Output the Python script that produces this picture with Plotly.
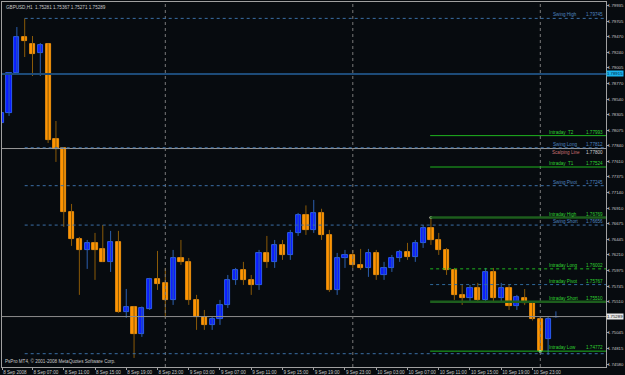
import plotly.graph_objects as go

# ---------------- data ----------------
bar_open = [1.78182, 1.78332, 1.78929, 1.79467, 1.79363, 1.79228, 1.79363, 1.77943, 1.77809, 1.76853,
            1.76449, 1.76285, 1.76390, 1.76300, 1.76110, 1.76404, 1.75359, 1.75433, 1.75030, 1.75403,
            1.75852, 1.75792, 1.75538, 1.76165, 1.76106, 1.75538, 1.75284, 1.75164, 1.75254, 1.75463,
            1.75837, 1.75986, 1.75837, 1.75762, 1.76240, 1.76106, 1.76360, 1.76210, 1.76539, 1.76808,
            1.76584, 1.76838, 1.76509, 1.75687, 1.76165, 1.76210, 1.76061, 1.76016, 1.76240, 1.75911,
            1.76016, 1.76165, 1.76255, 1.76180, 1.76390, 1.76614, 1.76434, 1.76285, 1.75986, 1.75613,
            1.75568, 1.75717, 1.75538, 1.75956, 1.75568, 1.75717, 1.75448, 1.75568, 1.75493, 1.75254,
            1.74955, 1.75281]
bar_high = [1.78511, 1.78944, 1.79616, 1.79745, 1.79482, 1.79377, 1.79370, 1.78212, 1.77815, 1.76972,
            1.76479, 1.76434, 1.76539, 1.76658, 1.76569, 1.76569, 1.75702, 1.75448, 1.75440, 1.75867,
            1.76270, 1.76016, 1.76285, 1.76434, 1.76165, 1.75613, 1.75388, 1.75284, 1.75538, 1.75911,
            1.76016, 1.76106, 1.75911, 1.76285, 1.76494, 1.76434, 1.76434, 1.76584, 1.76838, 1.76950,
            1.77032, 1.76900, 1.76584, 1.76240, 1.76285, 1.76285, 1.76300, 1.76300, 1.76285, 1.76106,
            1.76210, 1.76285, 1.76390, 1.76434, 1.76658, 1.76769, 1.76539, 1.76315, 1.76016, 1.75762,
            1.75762, 1.75792, 1.76016, 1.76016, 1.75792, 1.75762, 1.75613, 1.75700, 1.75510, 1.75284,
            1.75284, 1.75367]
bar_low = [1.77883, 1.78287, 1.78899, 1.79168, 1.78884, 1.78884, 1.77883, 1.77600, 1.76629, 1.76345,
           1.75613, 1.76001, 1.75837, 1.76106, 1.75956, 1.75344, 1.75269, 1.74671, 1.74985, 1.75388,
           1.75687, 1.75269, 1.75463, 1.76061, 1.75463, 1.75090, 1.75090, 1.75090, 1.75164, 1.75418,
           1.75762, 1.75762, 1.75613, 1.75687, 1.76016, 1.76016, 1.76136, 1.76136, 1.76494, 1.76509,
           1.76539, 1.76434, 1.75657, 1.75613, 1.76016, 1.76016, 1.75986, 1.75882, 1.75837, 1.75837,
           1.75956, 1.76106, 1.76136, 1.76106, 1.76315, 1.76360, 1.76210, 1.75911, 1.75538, 1.75463,
           1.75493, 1.75493, 1.75493, 1.75493, 1.75493, 1.75388, 1.75388, 1.75460, 1.75230, 1.74772,
           1.74716, 1.75271]
bar_close = [1.78332, 1.78929, 1.79467, 1.79407, 1.79213, 1.79348, 1.77928, 1.77794, 1.76853, 1.76449,
             1.76285, 1.76390, 1.76285, 1.76110, 1.76404, 1.75359, 1.75433, 1.75030, 1.75418, 1.75852,
             1.75777, 1.75538, 1.76165, 1.76106, 1.75538, 1.75284, 1.75164, 1.75254, 1.75463, 1.75837,
             1.75986, 1.75837, 1.75762, 1.76240, 1.76106, 1.76360, 1.76210, 1.76539, 1.76808, 1.76584,
             1.76838, 1.76509, 1.75687, 1.76165, 1.76210, 1.76061, 1.76016, 1.76240, 1.75911, 1.76016,
             1.76165, 1.76255, 1.76180, 1.76390, 1.76614, 1.76434, 1.76285, 1.75986, 1.75613, 1.75568,
             1.75717, 1.75538, 1.75956, 1.75568, 1.75717, 1.75448, 1.75583, 1.75493, 1.75254, 1.74776,
             1.75254, 1.75289]

x_tick_bars = [0, 4, 8, 12, 16, 20, 24, 28, 32, 36, 40, 44, 48, 52, 56, 60, 64, 68]
x_tick_labels = ["8 Sep 2008", "8 Sep 07:00", "8 Sep 11:00", "8 Sep 15:00", "8 Sep 19:00",
                 "8 Sep 23:00", "9 Sep 03:00", "9 Sep 07:00", "9 Sep 11:00", "9 Sep 15:00",
                 "9 Sep 19:00", "9 Sep 23:00", "10 Sep 03:00", "10 Sep 07:00", "10 Sep 11:00",
                 "10 Sep 15:00", "10 Sep 19:00", "10 Sep 23:00"]
separator_bars = [21, 45, 69]

y_tick_labels = ["1.79935", "1.79705", "1.79470", "1.79240", "1.79005", "1.78770", "1.78540",
                 "1.78305", "1.78075", "1.77840", "1.77610", "1.77375", "1.77140", "1.76910",
                 "1.76675", "1.76445", "1.76210", "1.75975", "1.75745", "1.75510",
                 "1.75045", "1.74815", "1.74580"]

swing_names = ["Swing High", "Swing Long", "Swing Pivot", "Swing Short", ""]
swing_values = [1.79745, 1.77812, 1.77245, 1.76656, 1.74734]
swing_start_bar = 3

intraday_names = ["Intraday  T2", "Intraday  T1", "Intraday High", "Intraday Long",
                  "Intraday Pivot", "Intraday Short", "Intraday Low"]
intraday_values = [1.77993, 1.77524, 1.76769, 1.76002, 1.75767, 1.75510, 1.74772]
intraday_start_bar = 55
intraday_styles = [("#1fb51f", 1, "solid"), ("#1fb51f", 1, "solid"), ("#1d5e1d", 2.6, "solid"),
                   ("#1fb51f", 1, "dot"), ("#2f6a9c", 1, "dot"), ("#1d5e1d", 2.6, "solid"),
                   ("#1fb51f", 1, "solid")]

hline_value = 1.78915
scalp_name = "Scalping Line"
scalp_value = 1.77800
symbol_text = "GBPUSD,H1"
copyright_text = "PsPro MT4, © 2001-2008 MetaQuotes Software Corp."

# ---------------- figure ----------------
BG = "#070b0f"
FONT = "Liberation Sans"
FS = 4.6
YFS = 4.3
X_RANGE = [0.096, 77.41]
n = len(bar_open)
idx = list(range(n))
up = [bar_close[i] >= bar_open[i] for i in idx]

fig = go.Figure()

# wicks
for flag, col in ((True, "#2c5fae"), (False, "#8a5a08")):
    wx, wy = [], []
    for i in idx:
        if up[i] == flag:
            wx += [i, i, None]
            wy += [bar_low[i], bar_high[i], None]
    fig.add_trace(go.Scatter(x=wx, y=wy, mode="lines", line=dict(color=col, width=1),
                             hoverinfo="skip", showlegend=False))

# bodies
for flag, fill, edge in ((True, "#0a1cff", "#3570ff"), (False, "#ff9400", "#ff9a10")):
    bx = [i for i in idx if up[i] == flag]
    base = [min(bar_open[i], bar_close[i]) for i in bx]
    hgt = [max(abs(bar_close[i] - bar_open[i]), 0.00004) for i in bx]
    fig.add_trace(go.Bar(x=bx, y=hgt, base=base, width=0.66,
                         marker=dict(color=fill, line=dict(color=edge, width=0.8)),
                         hoverinfo="skip", showlegend=False))

shapes = []
annots = []

# full-width lines
shapes.append(dict(type="line", xref="paper", x0=0, x1=1, yref="y", y0=hline_value, y1=hline_value,
                   line=dict(color="#1d4b78", width=2)))
shapes.append(dict(type="line", xref="paper", x0=0, x1=1, yref="y", y0=scalp_value, y1=scalp_value,
                   line=dict(color="#9a9a9a", width=1)))
shapes.append(dict(type="line", xref="paper", x0=0, x1=1, yref="y", y0=bar_close[-1], y1=bar_close[-1],
                   line=dict(color="#8c8c8c", width=1)))

# separators
for b in separator_bars:
    shapes.append(dict(type="line", xref="x", x0=b, x1=b, yref="paper", y0=0, y1=1,
                       line=dict(color="#7a7a7a", width=1, dash="dot")))

# swing levels
for name, v in zip(swing_names, swing_values):
    shapes.append(dict(type="line", xref="x", x0=swing_start_bar, x1=78, yref="y", y0=v, y1=v,
                       line=dict(color="#3b6fa6", width=1, dash="dot")))
    if name:
        annots.append(dict(x=70.4, y=v, xref="x", yref="y", text=name, showarrow=False,
                           xanchor="left", yanchor="bottom", yshift=-1,
                           font=dict(family=FONT, size=FS, color="#4f86c0")))
        annots.append(dict(x=1, y=v, xref="paper", yref="y", text=f"{v:.5f}", showarrow=False,
                           xanchor="right", yanchor="bottom", yshift=-1, xshift=-1,
                           font=dict(family=FONT, size=FS, color="#4f86c0")))

# intraday levels
for name, v, st in zip(intraday_names, intraday_values, intraday_styles):
    shapes.append(dict(type="line", xref="x", x0=intraday_start_bar - 0.1, x1=78, yref="y", y0=v, y1=v,
                       line=dict(color=st[0], width=st[1], dash=st[2])))
    annots.append(dict(x=69.9, y=v, xref="x", yref="y", text=name, showarrow=False,
                       xanchor="left", yanchor="bottom", yshift=-1,
                       font=dict(family=FONT, size=FS, color="#2fd02f")))
    annots.append(dict(x=1, y=v, xref="paper", yref="y", text=f"{v:.5f}", showarrow=False,
                       xanchor="right", yanchor="bottom", yshift=-1, xshift=-1,
                       font=dict(family=FONT, size=FS, color="#2fd02f")))

# scalping line label (sits just under the Swing Long label)
annots.append(dict(x=70.2, y=scalp_value, xref="x", yref="y", text=scalp_name, showarrow=False,
                   xanchor="left", yanchor="top", yshift=1,
                   font=dict(family=FONT, size=FS, color="#c87070")))
annots.append(dict(x=1, y=scalp_value, xref="paper", yref="y", text=f"{scalp_value:.5f}", showarrow=False,
                   xanchor="right", yanchor="top", yshift=1, xshift=-1,
                   font=dict(family=FONT, size=FS, color="#d0d0d0")))

# markers on intraday high / low
fig.add_trace(go.Scatter(x=[intraday_start_bar, 69], y=[intraday_values[2], intraday_values[-1]],
                         mode="markers", marker=dict(color="#f0f0d0", size=3),
                         hoverinfo="skip", showlegend=False))

# right-axis price boxes
annots.append(dict(x=1, y=hline_value, xref="paper", yref="y", text=f"{hline_value:.5f}",
                   showarrow=False, xanchor="left", xshift=0, bgcolor="#19b4ee",
                   font=dict(family=FONT, size=YFS, color="#002040"), borderpad=0))
annots.append(dict(x=1, y=bar_close[-1], xref="paper", yref="y", text=f"{bar_close[-1]:.5f}",
                   showarrow=False, xanchor="left", xshift=0, bgcolor="#e8e8e8",
                   font=dict(family=FONT, size=YFS, color="#101010"), borderpad=0))

# header / copyright
hdr = f"{symbol_text}  {bar_open[-1]:.5f} {bar_high[-1]:.5f} {bar_low[-1]:.5f} {bar_close[-1]:.5f}"
annots.append(dict(x=0, y=1, xref="paper", yref="paper", text=hdr, showarrow=False,
                   xanchor="left", yanchor="top", xshift=2, yshift=-1,
                   font=dict(family=FONT, size=FS, color="#c8c8c8")))
annots.append(dict(x=0, y=0, xref="paper", yref="paper", text=copyright_text, showarrow=False,
                   xanchor="left", yanchor="bottom", xshift=1, yshift=1,
                   font=dict(family=FONT, size=FS, color="#c8c8c8")))

# first tick sits at the left edge of the visible range
x_tick_pos = [max(b, X_RANGE[0] + 0.02) for b in x_tick_bars]

fig.update_layout(
    width=625, height=375,
    margin=dict(l=2, r=19, t=2, b=8, autoexpand=False),
    paper_bgcolor=BG, plot_bgcolor=BG,
    barmode="overlay", bargap=0,
    shapes=shapes, annotations=annots,
    showlegend=False,
    font=dict(family=FONT, size=FS, color="#c8c8c8"),
    xaxis=dict(range=X_RANGE, tickvals=x_tick_pos, ticktext=x_tick_labels, tickangle=0,
               automargin=False,
               ticklabelposition="outside right", ticks="outside", ticklen=2, tickcolor="#a0a0a0",
               showline=True, linecolor="#a0a0a0", linewidth=1, mirror=True,
               showgrid=False, zeroline=False, tickfont=dict(family=FONT, size=FS, color="#c8c8c8")),
    yaxis=dict(range=[1.745352, 1.79990], side="right", tickvals=[float(t) for t in y_tick_labels],
               automargin=False, ticklabelstandoff=-2,
               ticktext=y_tick_labels, ticks="outside", ticklen=2, tickcolor="#a0a0a0",
               showline=True, linecolor="#a0a0a0", linewidth=1, mirror=True,
               showgrid=False, zeroline=False, tickfont=dict(family=FONT, size=YFS, color="#c8c8c8")),
)

fig.write_html("out.html")
